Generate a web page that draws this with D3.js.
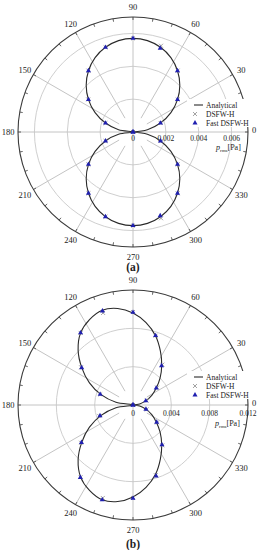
<!DOCTYPE html>
<html><head><meta charset="utf-8">
<script src="https://cdn.jsdelivr.net/npm/d3@7"></script>
<style>
body{margin:0;background:#fff;}
svg{display:block;}
text{font-family:"Liberation Serif","Times New Roman",serif;fill:#222;}
</style>
</head><body>
<svg id="chart" width="258" height="550"></svg>
<script>
// ---------- data ----------
const angleTicks = [0, 30, 60, 90, 120, 150, 180, 210, 240, 270, 300, 330];
const angleLabels = ["0", "30", "60", "90", "120", "150", "180", "210", "240", "270", "300", "330"];
const minorAngles = [0,10,20,30,40,50,60,70,80,90,100,110,120,130,140,150,160,170,180,190,200,210,220,230,240,250,260,270,280,290,300,310,320,330,340,350];
const curveAngles = [0,9,18,27,36,45,54,63,72,81,90,99,108,117,126,135,144,153,162,171,180,189,198,207,216,225,234,243,252,261,270,279,288,297,306,315,324,333,342,351,360];
const markerAngles = [0,18,36,54,72,90,108,126,144,162,180,198,216,234,252,270,288,306,324,342];
const seriesNames = ["Analytical", "DSFW-H", "Fast DSFW-H"];

// (a)
const radialTicksA = [0, 0.002, 0.004, 0.006];
const radialTickLabelsA = ["0", "0.002", "0.004", "0.006"];
const radialGridA = [0.002, 0.004, 0.006];
const radialMaxA = 0.007;
const analyticalA = [0, 0.00089, 0.00176, 0.00259, 0.00335, 0.00403, 0.00461, 0.00508, 0.00542, 0.00563, 0.0057, 0.00563, 0.00542, 0.00508, 0.00461, 0.00403, 0.00335, 0.00259, 0.00176, 0.00089, 0,
                     0.00089, 0.00176, 0.00259, 0.00335, 0.00403, 0.00461, 0.00508, 0.00542, 0.00563, 0.0057, 0.00563, 0.00542, 0.00508, 0.00461, 0.00403, 0.00335, 0.00259, 0.00176, 0.00089, 0];
const dsfwA = [0, 0.00177, 0.00336, 0.00462, 0.00552, 0.0057, 0.00542, 0.00462, 0.00337, 0.00176, 0, 0.00176, 0.00336, 0.00461, 0.00542, 0.0057, 0.00552, 0.00462, 0.00336, 0.00177];
const fastA = [0, 0.00176, 0.00335, 0.00461, 0.00536, 0.0057, 0.00542, 0.00461, 0.00335, 0.00176, 0, 0.00176, 0.00335, 0.00461, 0.00542, 0.0057, 0.00536, 0.00461, 0.00335, 0.00176];

// (b)
const radialTicksB = [0, 0.004, 0.008, 0.012];
const radialTickLabelsB = ["0", "0.004", "0.008", "0.012"];
const radialGridB = [0.004, 0.008];
const radialMaxB = 0.012;
const analyticalB = [0, 0.0007, 0.0014, 0.0022, 0.0030, 0.0040, 0.0051, 0.0063, 0.0076, 0.0087, 0.0096, 0.0102, 0.0104, 0.0100, 0.0093, 0.0081, 0.0066, 0.0051, 0.0035, 0.0018, 0,
                     0.0018, 0.0035, 0.0051, 0.0066, 0.0081, 0.0093, 0.0100, 0.0104, 0.0102, 0.0096, 0.0087, 0.0076, 0.0063, 0.0051, 0.0040, 0.0030, 0.0022, 0.0014, 0.0007, 0];
const dsfwB = [0, 0.0015, 0.0031, 0.0052, 0.0076, 0.0097, 0.0101, 0.0093, 0.0067, 0.0036, 0, 0.0037, 0.0067, 0.0093, 0.0102, 0.0097, 0.0077, 0.0052, 0.0031, 0.0015];
const fastB = [0, 0.0014, 0.0030, 0.00507, 0.00762, 0.00967, 0.01032, 0.00931, 0.00662, 0.0036, 0, 0.00362, 0.00665, 0.00935, 0.0104, 0.00974, 0.00779, 0.00514, 0.00305, 0.00142];

// ---------- drawing ----------
const svg = d3.select("#chart");
const R = 115;
const toRad = a => a * Math.PI / 180;

function drawPolar(cfg) {
  const g = svg.append("g").attr("transform", `translate(${cfg.cx},${cfg.cy})`);
  const r = d3.scaleLinear().domain([0, cfg.max]).range([0, R]);
  const px = (a, v) => r(v) * Math.cos(toRad(a));
  const py = (a, v) => -r(v) * Math.sin(toRad(a));

  // grid circles
  g.selectAll(".grid").data(cfg.grid).join("circle")
    .attr("r", d => r(d)).attr("fill", "none").attr("stroke", "#cfcfcf").attr("stroke-width", 1);

  // spokes
  g.selectAll(".spoke").data(angleTicks).join("line")
    .attr("x1", d => (d % 90 === 0 ? 0 : 16 * Math.cos(toRad(d))))
    .attr("y1", d => (d % 90 === 0 ? 0 : -16 * Math.sin(toRad(d))))
    .attr("x2", d => R * Math.cos(toRad(d)))
    .attr("y2", d => -R * Math.sin(toRad(d)))
    .attr("stroke", "#c4c4c4").attr("stroke-width", 1);

  // outer circle
  g.append("circle").attr("r", R).attr("fill", "none").attr("stroke", "#3a3a3a").attr("stroke-width", 1.1);
  g.selectAll(".mtick").data(minorAngles).join("line")
    .attr("x1", d => R * Math.cos(toRad(d))).attr("y1", d => -R * Math.sin(toRad(d)))
    .attr("x2", d => (R - 3) * Math.cos(toRad(d))).attr("y2", d => -(R - 3) * Math.sin(toRad(d)))
    .attr("stroke", "#3a3a3a").attr("stroke-width", 0.8);

  // angle labels
  g.selectAll(".alab").data(angleTicks).join("text")
    .attr("x", d => d === 0 ? 119 : 125 * Math.cos(toRad(d)))
    .attr("y", d => d === 0 ? -2 : -125 * Math.sin(toRad(d)))
    .attr("text-anchor", d => d === 0 ? "start" : "middle")
    .attr("dominant-baseline", "central")
    .attr("font-size", 8.5)
    .text((d, i) => angleLabels[i]);

  // radial tick labels
  g.selectAll(".rlab").data(cfg.ticks).join("text")
    .attr("x", d => r(d)).attr("y", cfg.tickDy)
    .attr("text-anchor", "middle").attr("dominant-baseline", "central")
    .attr("font-size", 7.5)
    .text((d, i) => cfg.tickLabels[i]);

  // radial axis title
  const t = g.append("text").attr("x", cfg.titleX).attr("y", cfg.titleY).attr("font-size", 8);
  t.append("tspan").attr("font-style", "italic").text("p");
  t.append("tspan").attr("font-size", 5).attr("dy", 2).text("rms");
  t.append("tspan").attr("dy", -2).text("[Pa]");

  // analytical curve
  const pts = curveAngles.map((a, i) => ({a, v: cfg.analytical[i]}));
  const line = d3.lineRadial()
    .angle(d => toRad(90 - d.a))
    .radius(d => r(d.v))
    .curve(d3.curveCatmullRom.alpha(0.5));
  g.append("path").attr("d", line(pts)).attr("fill", "none")
    .attr("stroke", "#2a2a2a").attr("stroke-width", 1.1);

  // DSFW-H crosses
  const cross = d3.symbol().type(d3.symbolX).size(12);
  g.selectAll(".dsfw").data(markerAngles).join("path")
    .attr("d", cross)
    .attr("transform", (a, i) => `translate(${px(a, cfg.dsfw[i])},${py(a, cfg.dsfw[i])})`)
    .attr("fill", "none").attr("stroke", "#8c8c8c").attr("stroke-width", 0.8);

  // Fast DSFW-H triangles
  const tri = d3.symbol().type(d3.symbolTriangle).size(11);
  g.selectAll(".fast").data(markerAngles).join("path")
    .attr("d", tri)
    .attr("transform", (a, i) => `translate(${px(a, cfg.fast[i])},${py(a, cfg.fast[i])})`)
    .attr("fill", "#1f1fb0");

  // legend
  const lg = g.append("g").attr("transform", `translate(${cfg.legX},${cfg.legY})`);
  lg.append("rect").attr("x", 0).attr("y", 0).attr("width", 64).attr("height", 28).attr("fill", "#fff");
  const rows = [6, 15, 24];
  lg.append("line").attr("x1", 7).attr("x2", 16).attr("y1", rows[0]).attr("y2", rows[0])
    .attr("stroke", "#2a2a2a").attr("stroke-width", 1.1);
  lg.append("path").attr("d", cross).attr("transform", `translate(8,${rows[1]})`)
    .attr("fill", "none").attr("stroke", "#8c8c8c").attr("stroke-width", 0.8);
  lg.append("path").attr("d", tri).attr("transform", `translate(8,${rows[2]})`).attr("fill", "#1f1fb0");
  lg.selectAll(".lt").data(seriesNames).join("text")
    .attr("x", 19).attr("y", (d, i) => rows[i])
    .attr("dominant-baseline", "central").attr("font-size", 7.5)
    .text(d => d);

  // caption
  const c = svg.append("text").attr("x", cfg.cx).attr("y", cfg.capY)
    .attr("text-anchor", "middle").attr("dominant-baseline", "central")
    .attr("font-size", 11.5).attr("font-weight", "bold");
  c.text(cfg.caption);
}

drawPolar({cx: 133, cy: 132, max: radialMaxA, grid: radialGridA, ticks: radialTicksA,
  tickLabels: radialTickLabelsA, tickDy: 6.5, titleX: 83, titleY: 18,
  analytical: analyticalA, dsfw: dsfwA, fast: fastA, legX: 54, legY: -33,
  caption: "(a)", capY: 267});

drawPolar({cx: 133, cy: 405, max: radialMaxB, grid: radialGridB, ticks: radialTicksB,
  tickLabels: radialTickLabelsB, tickDy: 8, titleX: 82, titleY: 21,
  analytical: analyticalB, dsfw: dsfwB, fast: fastB, legX: 54, legY: -34,
  caption: "(b)", capY: 544});
</script>
</body></html>
